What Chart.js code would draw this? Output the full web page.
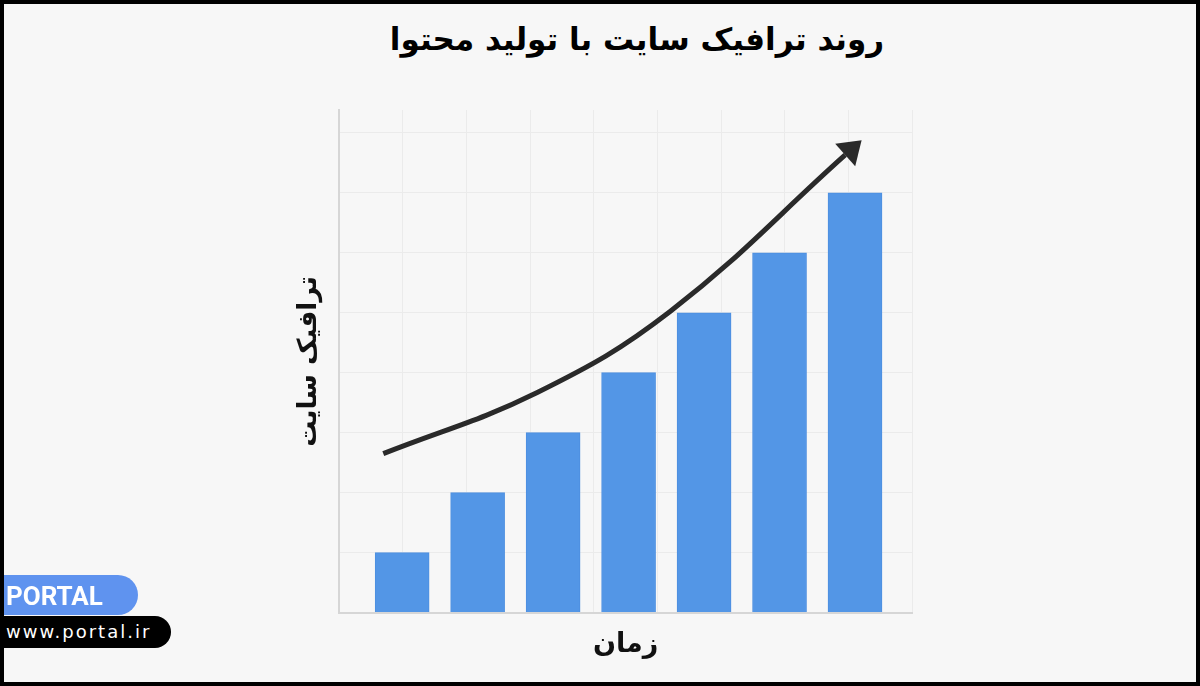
<!DOCTYPE html>
<html lang="fa">
<head>
<meta charset="utf-8">
<script src="https://cdn.jsdelivr.net/npm/chart.js@4.4.1/dist/chart.umd.min.js"></script>
<style>
  html, body { margin: 0; padding: 0; }
  body { width: 1200px; height: 686px; background: #f7f7f7; position: relative; overflow: hidden; font-family: "DejaVu Sans", sans-serif; }
  #frame { position: absolute; left: 0; top: 0; width: 1200px; height: 686px; box-sizing: border-box; border: 4px solid #000; pointer-events: none; z-index: 5; }
  #chart { position: absolute; left: 0; top: 0; }
  #title { position: absolute; left: 337px; width: 600px; top: 15px; text-align: center; direction: rtl;
           font-size: 31px; font-weight: bold; color: #000; line-height: 48px; }
  .pill { position: absolute; left: 0; color: #fff; white-space: nowrap; }
  #brand { top: 575px; width: 138px; height: 40px; background: #5f93ef; border-radius: 0 20px 20px 0;
           font: bold 26px "Roboto", sans-serif; line-height: 42px; padding-left: 6px; box-sizing: border-box; }
  #site { top: 616px; width: 171px; height: 32px; background: #000; border-radius: 0 16px 16px 0;
          font: 18px "DejaVu Sans", sans-serif; letter-spacing: 2px; line-height: 32px; padding-left: 6px; box-sizing: border-box; }
</style>
</head>
<body>
<div id="title">روند ترافیک سایت با تولید محتوا</div>
<canvas id="chart" width="1200" height="686"></canvas>
<div id="brand" class="pill">PORTAL</div>
<div id="site" class="pill">www.portal.ir</div>
<div id="frame"></div>

<script>
/* ---------- DATA ---------- */
const periods = [1, 2, 3, 4, 5, 6, 7];
const traffic = [1, 2, 3, 4, 5, 6, 7];

// trend arrow drawn over the bars (in axis units)
const trendX = [0.75, 2.79, 4.55, 6.87];
const trendY = [2.65, 3.67, 5.02, 7.63];

const xTitle = "زمان";
const yTitle = "ترافیک سایت";

/* ---------- ARROW HEAD ---------- */
const arrowHead = {
  id: "arrowHead",
  afterDatasetsDraw(chart) {
    const pts = chart.getDatasetMeta(0).data;
    const p = pts[pts.length - 1];
    const q = pts[pts.length - 2];
    let dx = p.x - (p.cp1x ?? q.x);
    let dy = p.y - (p.cp1y ?? q.y);
    const len = Math.hypot(dx, dy) || 1;
    dx /= len; dy /= len;
    const nx = -dy, ny = dx;
    const ctx = chart.ctx;
    ctx.save();
    ctx.fillStyle = "#2a2a2a";
    ctx.beginPath();
    ctx.moveTo(p.x + dx * 22, p.y + dy * 22);
    ctx.lineTo(p.x + nx * 15, p.y + ny * 15);
    ctx.lineTo(p.x - nx * 15, p.y - ny * 15);
    ctx.closePath();
    ctx.fill();
    ctx.restore();
  }
};

/* ---------- CHART ---------- */
new Chart(document.getElementById("chart"), {
  type: "bar",
  data: {
    datasets: [
      {
        type: "line",
        data: trendX.map((x, i) => ({ x: x, y: trendY[i] })),
        borderColor: "#2a2a2a",
        borderWidth: 5,
        pointRadius: 0,
        tension: 0.4,
        fill: false,
        order: 0
      },
      {
        data: periods.map((p, i) => ({ x: p, y: traffic[i] })),
        backgroundColor: "#5396e6",
        borderColor: "#4d8fe0",
        borderWidth: 1,
        barThickness: 54,
        order: 1
      }
    ]
  },
  options: {
    responsive: false,
    animation: false,
    layout: { padding: { top: 110, left: 288, right: 288, bottom: 19 } },
    plugins: { legend: { display: false }, tooltip: { enabled: false } },
    scales: {
      x: {
        type: "linear",
        offset: false,
        min: 0.166,
        max: 7.755,
        ticks: { display: false },
        grid: { display: false, drawTicks: false, offset: false },
        border: { display: true, color: "#d6d6d6", width: 2 },
        title: { display: true, text: xTitle, color: "#111",
                 font: { family: "DejaVu Sans", size: 27, weight: "bold" }, padding: { top: 16, bottom: 6 } }
      },
      cols: {
        type: "linear",
        axis: "x",
        position: "top",
        offset: false,
        min: 0,
        max: 9,
        ticks: { display: false, stepSize: 1 },
        grid: { color: "#ebebeb", drawTicks: false, offset: false },
        border: { display: false }
      },
      y: {
        min: 0,
        max: 8.38,
        ticks: { display: false, stepSize: 1 },
        grid: {
          drawTicks: false,
          color: c => Number.isInteger(c.tick.value) ? "#ebebeb" : "rgba(0,0,0,0)"
        },
        border: { color: "#d6d6d6", width: 2 },
        title: { display: true, text: yTitle, color: "#111",
                 font: { family: "DejaVu Sans", size: 26, weight: "bold" }, padding: { top: 6, bottom: 14 } }
      }
    }
  },
  plugins: [arrowHead]
});
</script>
</body>
</html>
